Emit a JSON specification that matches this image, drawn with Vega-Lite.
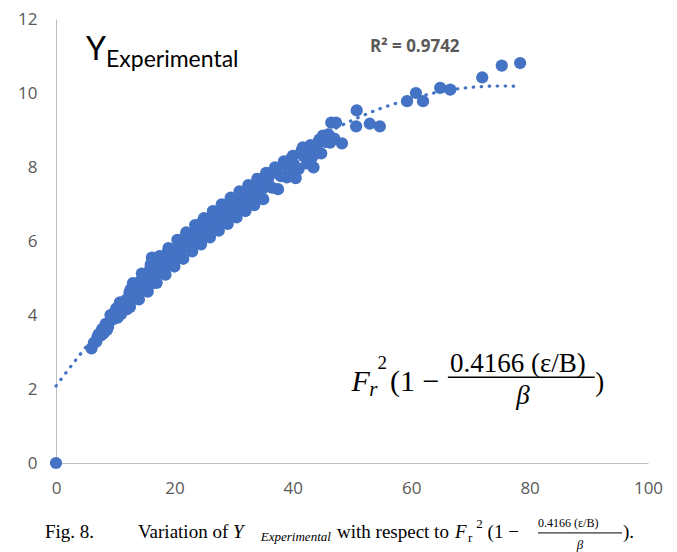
{
  "$schema": "https://vega.github.io/schema/vega-lite/v6.json",
  "width": 592,
  "height": 444,
  "autosize": "none",
  "padding": {"left": 56, "top": 19, "right": 29, "bottom": 89},
  "background": "white",
  "config": {"view": {"stroke": null}, "font": "Open Sans"},
  "data": {"values": [{}]},
  "datasets": {
    "pts": [
      {"x": 0, "y": 0},
      {"x": 6.0, "y": 3.10}, {"x": 6.4, "y": 3.25}, {"x": 6.8, "y": 3.28}, {"x": 7.2, "y": 3.48}, {"x": 7.6, "y": 3.45},
      {"x": 8.0, "y": 3.50}, {"x": 8.4, "y": 3.76}, {"x": 8.8, "y": 3.68}, {"x": 9.2, "y": 4.00}, {"x": 9.6, "y": 3.88},
      {"x": 10.0, "y": 4.10}, {"x": 10.4, "y": 3.93}, {"x": 10.8, "y": 4.34}, {"x": 11.2, "y": 4.16}, {"x": 11.6, "y": 4.35},
      {"x": 12.0, "y": 4.16}, {"x": 12.4, "y": 4.60}, {"x": 12.8, "y": 4.42}, {"x": 13.2, "y": 4.82}, {"x": 13.6, "y": 4.64},
      {"x": 14.0, "y": 4.84}, {"x": 14.4, "y": 4.64}, {"x": 14.8, "y": 5.06}, {"x": 15.2, "y": 4.86}, {"x": 15.6, "y": 5.04},
      {"x": 16.0, "y": 4.84}, {"x": 16.4, "y": 5.27}, {"x": 16.8, "y": 5.08}, {"x": 17.2, "y": 5.48}, {"x": 17.6, "y": 5.28},
      {"x": 18.0, "y": 5.48}, {"x": 18.4, "y": 5.27}, {"x": 18.8, "y": 5.68}, {"x": 19.2, "y": 5.47}, {"x": 19.6, "y": 5.64},
      {"x": 20.0, "y": 5.44}, {"x": 16.2, "y": 5.55},
      {"x": 7.0, "y": 3.40}, {"x": 7.8, "y": 3.62}, {"x": 8.6, "y": 3.60}, {"x": 9.4, "y": 3.94}, {"x": 10.2, "y": 4.18},
      {"x": 11.0, "y": 4.03}, {"x": 11.8, "y": 4.40}, {"x": 12.6, "y": 4.69}, {"x": 13.4, "y": 4.51}, {"x": 14.2, "y": 4.90},
      {"x": 15.0, "y": 4.77}, {"x": 15.8, "y": 5.20}, {"x": 16.6, "y": 4.96}, {"x": 17.4, "y": 5.35}, {"x": 18.2, "y": 5.55},
      {"x": 19.0, "y": 5.34}, {"x": 19.8, "y": 5.70},
      {"x": 20.5, "y": 5.84}, {"x": 21.0, "y": 5.65}, {"x": 21.5, "y": 6.05}, {"x": 22.0, "y": 5.85}, {"x": 22.5, "y": 6.04},
      {"x": 23.0, "y": 5.86}, {"x": 23.5, "y": 6.27}, {"x": 24.0, "y": 6.09}, {"x": 24.5, "y": 6.48}, {"x": 25.0, "y": 6.27},
      {"x": 25.5, "y": 6.49}, {"x": 26.0, "y": 6.30}, {"x": 26.5, "y": 6.69}, {"x": 27.0, "y": 6.49}, {"x": 27.5, "y": 6.67},
      {"x": 28.0, "y": 6.48}, {"x": 28.5, "y": 6.89}, {"x": 29.0, "y": 6.70}, {"x": 29.5, "y": 7.09}, {"x": 30.0, "y": 6.88},
      {"x": 30.5, "y": 7.09}, {"x": 31.0, "y": 6.89}, {"x": 31.5, "y": 7.28}, {"x": 32.0, "y": 7.08}, {"x": 32.5, "y": 7.25},
      {"x": 33.0, "y": 7.06}, {"x": 33.5, "y": 7.46}, {"x": 34.0, "y": 7.27}, {"x": 34.5, "y": 7.65}, {"x": 35.0, "y": 7.43},
      {"x": 20.8, "y": 5.64}, {"x": 21.8, "y": 6.08}, {"x": 22.8, "y": 5.85}, {"x": 23.8, "y": 6.26}, {"x": 24.8, "y": 6.45},
      {"x": 25.8, "y": 6.26}, {"x": 26.8, "y": 6.62}, {"x": 27.8, "y": 6.87}, {"x": 28.8, "y": 6.67}, {"x": 29.8, "y": 7.04},
      {"x": 30.8, "y": 6.89}, {"x": 31.8, "y": 7.30}, {"x": 32.8, "y": 7.06}, {"x": 33.8, "y": 7.44},
      {"x": 35.8, "y": 7.67}, {"x": 36.5, "y": 7.44}, {"x": 37.2, "y": 7.84}, {"x": 38.0, "y": 7.75}, {"x": 38.7, "y": 8.05},
      {"x": 39.5, "y": 7.85}, {"x": 40.2, "y": 8.07}, {"x": 41.0, "y": 7.95}, {"x": 41.8, "y": 8.30}, {"x": 42.5, "y": 8.50},
      {"x": 43.3, "y": 8.27}, {"x": 44.0, "y": 8.49}, {"x": 44.8, "y": 8.37}, {"x": 45.5, "y": 8.68}, {"x": 46.3, "y": 8.66},
      {"x": 47.0, "y": 8.77},
      {"x": 13.0, "y": 4.86}, {"x": 14.5, "y": 5.12}, {"x": 16.0, "y": 5.36}, {"x": 17.5, "y": 5.59}, {"x": 19.0, "y": 5.81},
      {"x": 20.5, "y": 6.03}, {"x": 22.0, "y": 6.23}, {"x": 23.5, "y": 6.43}, {"x": 25.0, "y": 6.62}, {"x": 26.5, "y": 6.81},
      {"x": 28.0, "y": 6.99}, {"x": 29.5, "y": 7.17}, {"x": 31.0, "y": 7.34}, {"x": 32.5, "y": 7.51}, {"x": 34.0, "y": 7.68},
      {"x": 35.5, "y": 7.84}, {"x": 37.0, "y": 7.99}, {"x": 38.5, "y": 8.15}, {"x": 40.0, "y": 8.30}, {"x": 41.5, "y": 8.45},
      {"x": 43.0, "y": 8.59}, {"x": 44.5, "y": 8.74}, {"x": 46.0, "y": 8.88},
      {"x": 12.5, "y": 4.22}, {"x": 14.0, "y": 4.42}, {"x": 15.5, "y": 4.63}, {"x": 17.0, "y": 4.87}, {"x": 18.5, "y": 5.09},
      {"x": 20.0, "y": 5.31}, {"x": 21.5, "y": 5.52}, {"x": 23.0, "y": 5.72}, {"x": 24.5, "y": 5.91}, {"x": 26.0, "y": 6.10},
      {"x": 27.5, "y": 6.28}, {"x": 29.0, "y": 6.46}, {"x": 30.5, "y": 6.64}, {"x": 32.0, "y": 6.81}, {"x": 33.5, "y": 6.97},
      {"x": 35.0, "y": 7.13}, {"x": 37.5, "y": 7.40}, {"x": 40.5, "y": 7.70}, {"x": 43.5, "y": 7.99},
      {"x": 39.0, "y": 7.72}, {"x": 42.4, "y": 8.10}, {"x": 41.7, "y": 8.53}, {"x": 45.1, "y": 8.85}, {"x": 46.5, "y": 9.20},
      {"x": 47.3, "y": 9.20}, {"x": 48.3, "y": 8.64}, {"x": 50.8, "y": 9.53}, {"x": 50.7, "y": 9.10}, {"x": 53.0, "y": 9.17},
      {"x": 54.7, "y": 9.10}, {"x": 59.3, "y": 9.78}, {"x": 60.8, "y": 10.0}, {"x": 62.0, "y": 9.78}, {"x": 64.9, "y": 10.14},
      {"x": 66.6, "y": 10.09}, {"x": 72.0, "y": 10.42}, {"x": 75.3, "y": 10.74}, {"x": 78.4, "y": 10.81}
    ],
    "trend": [
      {"x": 0, "y": 2.08}, {"x": 4, "y": 2.92}, {"x": 8, "y": 3.71}, {"x": 12, "y": 4.45}, {"x": 16, "y": 5.15},
      {"x": 20, "y": 5.81}, {"x": 25, "y": 6.56}, {"x": 30, "y": 7.24}, {"x": 35, "y": 7.85}, {"x": 40, "y": 8.39},
      {"x": 45, "y": 8.86}, {"x": 50, "y": 9.26}, {"x": 55, "y": 9.59}, {"x": 60, "y": 9.84}, {"x": 65, "y": 10.04},
      {"x": 70, "y": 10.15}, {"x": 75, "y": 10.19}, {"x": 78, "y": 10.18}
    ]
  },
  "encoding": {
    "x": {"type": "quantitative", "scale": {"domain": [0, 100], "nice": false, "zero": false},
      "axis": {"title": null, "values": [0, 20, 40, 60, 80, 100], "grid": false, "ticks": false, "tickSize": 0,
        "domainColor": "#bfbfbf", "domainWidth": 1, "labelColor": "#595959", "labelFontSize": 17, "labelFont": "Open Sans",
        "labelPadding": 17, "labelFlush": false}},
    "y": {"type": "quantitative", "scale": {"domain": [0, 12], "nice": false, "zero": false},
      "axis": {"title": null, "values": [0, 2, 4, 6, 8, 10, 12], "grid": false, "ticks": false, "tickSize": 0,
        "domainColor": "#bfbfbf", "domainWidth": 1, "labelColor": "#595959", "labelFontSize": 17, "labelFont": "Open Sans",
        "labelPadding": 19, "labelFlush": false}}
  },
  "layer": [
    {
      "data": {"name": "trend"},
      "mark": {"type": "line", "color": "#4472C4", "strokeWidth": 3.2, "strokeDash": [0.5, 7.5], "strokeCap": "round", "interpolate": "monotone", "clip": false},
      "encoding": {"x": {"field": "x"}, "y": {"field": "y"}}
    },
    {
      "data": {"name": "pts"},
      "mark": {"type": "circle", "size": 150, "color": "#4472C4", "opacity": 1, "clip": false},
      "encoding": {"x": {"field": "x"}, "y": {"field": "y"}}
    },
    {"mark": {"type": "text", "text": "Y", "font": "Lato", "fontSize": 32, "align": "left", "baseline": "alphabetic", "color": "#000000"},
      "encoding": {"x": {"datum": 5.07}, "y": {"datum": 10.89}}},
    {"mark": {"type": "text", "text": "Experimental", "font": "Lato", "fontSize": 23, "align": "left", "baseline": "alphabetic", "color": "#000000"},
      "encoding": {"x": {"datum": 8.45}, "y": {"datum": 10.70}}},
    {"mark": {"type": "text", "text": "R² = 0.9742", "font": "Open Sans", "fontWeight": "bold", "fontSize": 17, "align": "center", "baseline": "alphabetic", "color": "#595959"},
      "encoding": {"x": {"datum": 60.6}, "y": {"datum": 11.11}}},
    {"mark": {"type": "text", "text": "F", "font": "Liberation Serif", "fontStyle": "italic", "fontSize": 30, "align": "left", "baseline": "alphabetic", "color": "#000000"},
      "encoding": {"x": {"datum": 49.9}, "y": {"datum": 1.946}}},
    {"mark": {"type": "text", "text": "r", "font": "Liberation Serif", "fontStyle": "italic", "fontSize": 21, "align": "left", "baseline": "alphabetic", "color": "#000000"},
      "encoding": {"x": {"datum": 52.9}, "y": {"datum": 1.80}}},
    {"mark": {"type": "text", "text": "2", "font": "Liberation Serif", "fontSize": 19, "align": "left", "baseline": "alphabetic", "color": "#000000"},
      "encoding": {"x": {"datum": 54.3}, "y": {"datum": 2.53}}},
    {"mark": {"type": "text", "text": "(1 −", "font": "Liberation Serif", "fontSize": 30, "align": "left", "baseline": "alphabetic", "color": "#000000"},
      "encoding": {"x": {"datum": 56.4}, "y": {"datum": 1.946}}},
    {"mark": {"type": "text", "text": "0.4166 (ε/B)", "font": "Liberation Serif", "fontSize": 27, "align": "left", "baseline": "alphabetic", "color": "#000000"},
      "encoding": {"x": {"datum": 66.55}, "y": {"datum": 2.46}}},
    {"mark": {"type": "rule", "color": "#000000", "strokeWidth": 1.5},
      "encoding": {"x": {"datum": 66.2}, "x2": {"datum": 91.0}, "y": {"datum": 2.32}}},
    {"mark": {"type": "text", "text": "β", "font": "Liberation Serif", "fontStyle": "italic", "fontSize": 27, "align": "center", "baseline": "alphabetic", "color": "#000000"},
      "encoding": {"x": {"datum": 78.9}, "y": {"datum": 1.59}}},
    {"mark": {"type": "text", "text": ")", "font": "Liberation Serif", "fontSize": 27, "align": "left", "baseline": "alphabetic", "color": "#000000"},
      "encoding": {"x": {"datum": 91.1}, "y": {"datum": 1.946}}},
    {"mark": {"type": "text", "text": "Fig. 8.", "font": "Liberation Serif", "fontSize": 19, "align": "left", "baseline": "alphabetic", "color": "#000000"},
      "encoding": {"x": {"datum": -1.86}, "y": {"datum": -2.03}}},
    {"mark": {"type": "text", "text": "Variation of", "font": "Liberation Serif", "fontSize": 19, "align": "left", "baseline": "alphabetic", "color": "#000000"},
      "encoding": {"x": {"datum": 13.85}, "y": {"datum": -2.03}}},
    {"mark": {"type": "text", "text": "Y", "font": "Liberation Serif", "fontStyle": "italic", "fontSize": 19, "align": "left", "baseline": "alphabetic", "color": "#000000"},
      "encoding": {"x": {"datum": 29.9}, "y": {"datum": -2.03}}},
    {"mark": {"type": "text", "text": "Experimental", "font": "Liberation Serif", "fontStyle": "italic", "fontSize": 13, "align": "left", "baseline": "alphabetic", "color": "#000000"},
      "encoding": {"x": {"datum": 34.6}, "y": {"datum": -2.11}}},
    {"mark": {"type": "text", "text": "with respect to", "font": "Liberation Serif", "fontSize": 19, "align": "left", "baseline": "alphabetic", "color": "#000000"},
      "encoding": {"x": {"datum": 47.47}, "y": {"datum": -2.03}}},
    {"mark": {"type": "text", "text": "F", "font": "Liberation Serif", "fontStyle": "italic", "fontSize": 19, "align": "left", "baseline": "alphabetic", "color": "#000000"},
      "encoding": {"x": {"datum": 67.4}, "y": {"datum": -2.03}}},
    {"mark": {"type": "text", "text": "r", "font": "Liberation Serif", "fontSize": 13, "align": "left", "baseline": "alphabetic", "color": "#000000"},
      "encoding": {"x": {"datum": 69.6}, "y": {"datum": -2.14}}},
    {"mark": {"type": "text", "text": "2", "font": "Liberation Serif", "fontSize": 13, "align": "left", "baseline": "alphabetic", "color": "#000000"},
      "encoding": {"x": {"datum": 71.0}, "y": {"datum": -1.76}}},
    {"mark": {"type": "text", "text": "(1 −", "font": "Liberation Serif", "fontSize": 19, "align": "left", "baseline": "alphabetic", "color": "#000000"},
      "encoding": {"x": {"datum": 72.9}, "y": {"datum": -2.03}}},
    {"mark": {"type": "text", "text": "0.4166 (ε/B)", "font": "Liberation Serif", "fontSize": 12, "align": "left", "baseline": "alphabetic", "color": "#000000"},
      "encoding": {"x": {"datum": 81.42}, "y": {"datum": -1.73}}},
    {"mark": {"type": "rule", "color": "#000000", "strokeWidth": 1},
      "encoding": {"x": {"datum": 81.42}, "x2": {"datum": 95.61}, "y": {"datum": -1.89}}},
    {"mark": {"type": "text", "text": "β", "font": "Liberation Serif", "fontStyle": "italic", "fontSize": 13, "align": "center", "baseline": "alphabetic", "color": "#000000"},
      "encoding": {"x": {"datum": 88.5}, "y": {"datum": -2.32}}},
    {"mark": {"type": "text", "text": ").", "font": "Liberation Serif", "fontSize": 19, "align": "left", "baseline": "alphabetic", "color": "#000000"},
      "encoding": {"x": {"datum": 95.78}, "y": {"datum": -2.03}}}
  ]
}
